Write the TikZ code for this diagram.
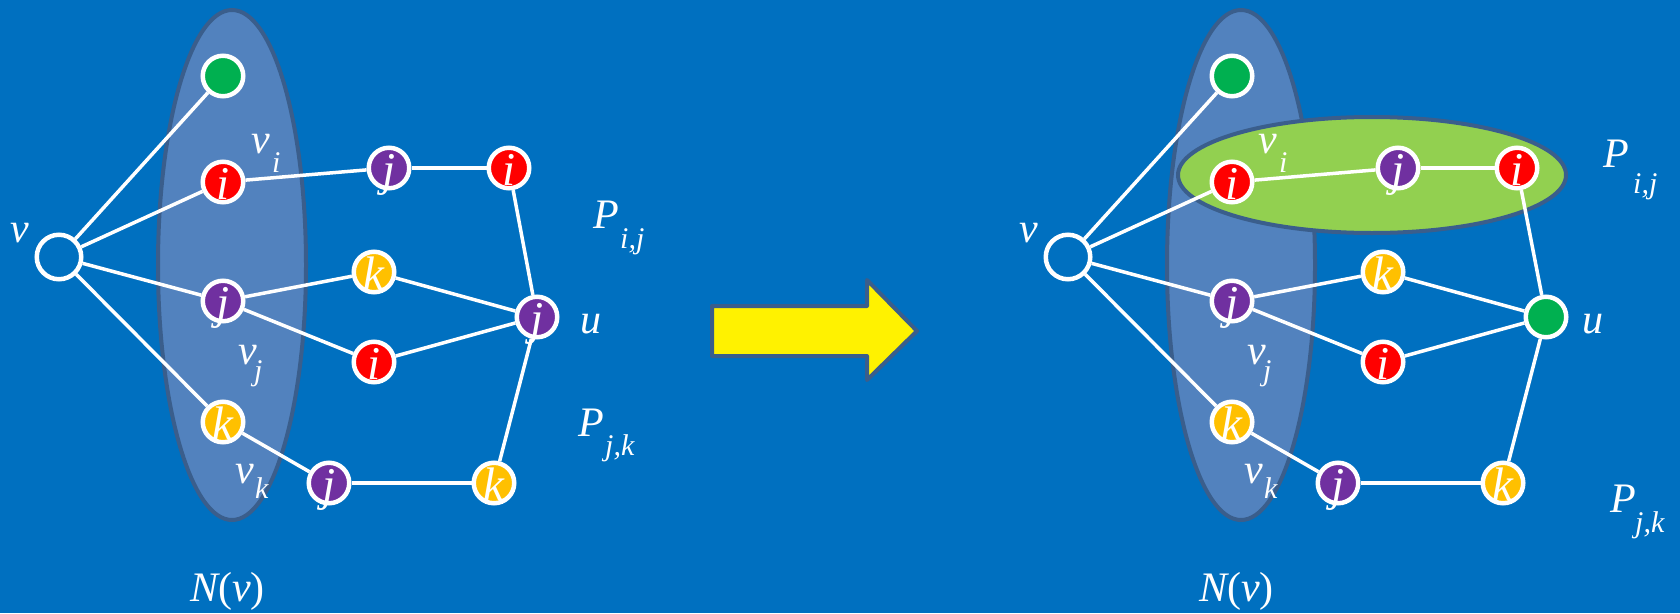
\documentclass[tikz,border=0pt]{standalone}
\usepackage{fontspec}
\setmainfont{Liberation Serif}[ItalicFont={Liberation Serif Italic}]
\newfontfamily\tms{Liberation Serif}[ItalicFont={Liberation Serif Italic}]
\usetikzlibrary{shapes.geometric}
\definecolor{bgblue}{HTML}{0070C0}
\definecolor{ellfill}{HTML}{5282BE}
\definecolor{bord}{HTML}{3A5E8C}
\definecolor{lgreen}{HTML}{92D050}
\definecolor{cgreen}{HTML}{00B050}
\definecolor{cred}{HTML}{FF0000}
\definecolor{cpurple}{HTML}{7030A0}
\definecolor{cyellow}{HTML}{FFC000}
\tikzset{
  nd/.style={circle, draw=white, line width=4.5pt, minimum size=40.5pt, inner sep=0pt},
  vnode/.style={circle, draw=white, line width=4.5pt, minimum size=44.5pt, inner sep=0pt},
  lt/.style={text=white, font=\tms\fontsize{47}{47}\selectfont\itshape, inner sep=0pt, anchor=base},
  lab/.style={text=white, font=\tms\fontsize{42}{42}\selectfont\itshape, inner sep=0pt, anchor=base west},
  sublab/.style={text=white, font=\tms\fontsize{30}{30}\selectfont\itshape, inner sep=0pt, anchor=base west},
  edge/.style={white, line width=3.5pt},
  nbh/.style={ellipse, draw=bord, fill=ellfill, line width=4pt, inner sep=0pt, minimum width=148pt, minimum height=510pt},
  pathell/.style={ellipse, draw=bord, fill=lgreen, line width=4pt, inner sep=0pt, minimum width=388pt, minimum height=116pt},
  bigarrow/.style={draw=bord, fill=yellow, line width=4pt, line join=round}
}
\newcommand\cnode[4]{%
  \node[nd, fill=#3] (#1) at (#2) {};
  \node[lt] (#1l) at ([yshift=-17pt]#1.center) {#4};
}
\newcommand\gnode[2]{%
  \node[nd, fill=cgreen] (#1) at (#2) {};
}
\begin{document}
\begin{tikzpicture}[x=1pt, y=-1pt]
\fill[bgblue] (0,0) rectangle (1680,613);
\useasboundingbox (0,0) rectangle (1680,613);

% ---------------- left panel ----------------
\node[nbh] (NL) at (232,265) {};
\gnode{Lg}{223,76}
\cnode{Lri}{223,182}{cred}{i}
\cnode{Lpj}{223,301}{cpurple}{j}
\cnode{Lyk}{223,422}{cyellow}{k}
\node[vnode] (Lv) at (59,257) {};
\cnode{Ltj}{389,168}{cpurple}{j}
\cnode{Lti}{509,168}{cred}{i}
\cnode{Lmk}{374,272}{cyellow}{k}
\cnode{Lmi}{374,362}{cred}{i}
\cnode{Lu}{537,317}{cpurple}{j}
\cnode{Lbj}{329,483}{cpurple}{j}
\cnode{Lbk}{494,483}{cyellow}{k}

\draw[edge] (Lv) -- (Lg);
\draw[edge] (Lv) -- (Lri);
\draw[edge] (Lv) -- (Lpj);
\draw[edge] (Lv) -- (Lyk);
\draw[edge] (Lri) -- (Ltj);
\draw[edge] (Ltj) -- (Lti);
\draw[edge] (Lti) -- (Lu);
\draw[edge] (Lpj) -- (Lmk);
\draw[edge] (Lpj) -- (Lmi);
\draw[edge] (Lmk) -- (Lu);
\draw[edge] (Lmi) -- (Lu);
\draw[edge] (Lyk) -- (Lbj);
\draw[edge] (Lbj) -- (Lbk);
\draw[edge] (Lbk) -- (Lu);

\node[lab] (Lvlab) at (10,242) {v};
\node[lab] (Lvi) at (251,153) {v};
\node[sublab] (Lvis) at (272,172) {i};
\node[lab] (Lvj) at (238,364) {v};
\node[sublab] (Lvjs) at (254,380) {j};
\node[lab] (Lvk) at (235,483) {v};
\node[sublab] (Lvks) at (255,498) {k};
\node[lab] (Lulab) at (580,333) {u};
\node[lab] (LPij) at (593,228) {P};
\node[sublab] (LPijs) at (620,248) {i,j};
\node[lab] (LPjk) at (578,436) {P};
\node[sublab] (LPjks) at (605,455) {j,k};
\node[lab] (LN) at (190,601) {N\upshape(\itshape v\upshape)};

% ---------------- arrow ----------------
\draw[bigarrow] (712,306) -- (867,306) -- (867,280) -- (917,331) -- (867,380) -- (867,356) -- (712,356) -- cycle;

% ---------------- right panel ----------------
\node[nbh] (NR) at (1241,265) {};
\node[pathell] (PE) at (1372,175) {};
\gnode{Rg}{1232,76}
\cnode{Rri}{1232,182}{cred}{i}
\cnode{Rpj}{1232,301}{cpurple}{j}
\cnode{Ryk}{1232,422}{cyellow}{k}
\node[vnode] (Rv) at (1068,257) {};
\cnode{Rtj}{1398,168}{cpurple}{j}
\cnode{Rti}{1517,168}{cred}{i}
\cnode{Rmk}{1383,272}{cyellow}{k}
\cnode{Rmi}{1383,362}{cred}{i}
\gnode{Ru}{1546,317}
\cnode{Rbj}{1338,483}{cpurple}{j}
\cnode{Rbk}{1503,483}{cyellow}{k}

\draw[edge] (Rv) -- (Rg);
\draw[edge] (Rv) -- (Rri);
\draw[edge] (Rv) -- (Rpj);
\draw[edge] (Rv) -- (Ryk);
\draw[edge] (Rri) -- (Rtj);
\draw[edge] (Rtj) -- (Rti);
\draw[edge] (Rti) -- (Ru);
\draw[edge] (Rpj) -- (Rmk);
\draw[edge] (Rpj) -- (Rmi);
\draw[edge] (Rmk) -- (Ru);
\draw[edge] (Rmi) -- (Ru);
\draw[edge] (Ryk) -- (Rbj);
\draw[edge] (Rbj) -- (Rbk);
\draw[edge] (Rbk) -- (Ru);

\node[lab] (Rvlab) at (1019,242) {v};
\node[lab] (Rvi) at (1258,153) {v};
\node[sublab] (Rvis) at (1279,172) {i};
\node[lab] (Rvj) at (1247,364) {v};
\node[sublab] (Rvjs) at (1263,380) {j};
\node[lab] (Rvk) at (1244,483) {v};
\node[sublab] (Rvks) at (1264,498) {k};
\node[lab] (Rulab) at (1582,333) {u};
\node[lab] (RPij) at (1603,167) {P};
\node[sublab] (RPijs) at (1633,193) {i,j};
\node[lab] (RPjk) at (1610,512) {P};
\node[sublab] (RPjks) at (1635,532) {j,k};
\node[lab] (RN) at (1199,601) {N\upshape(\itshape v\upshape)};
\end{tikzpicture}
\end{document}
